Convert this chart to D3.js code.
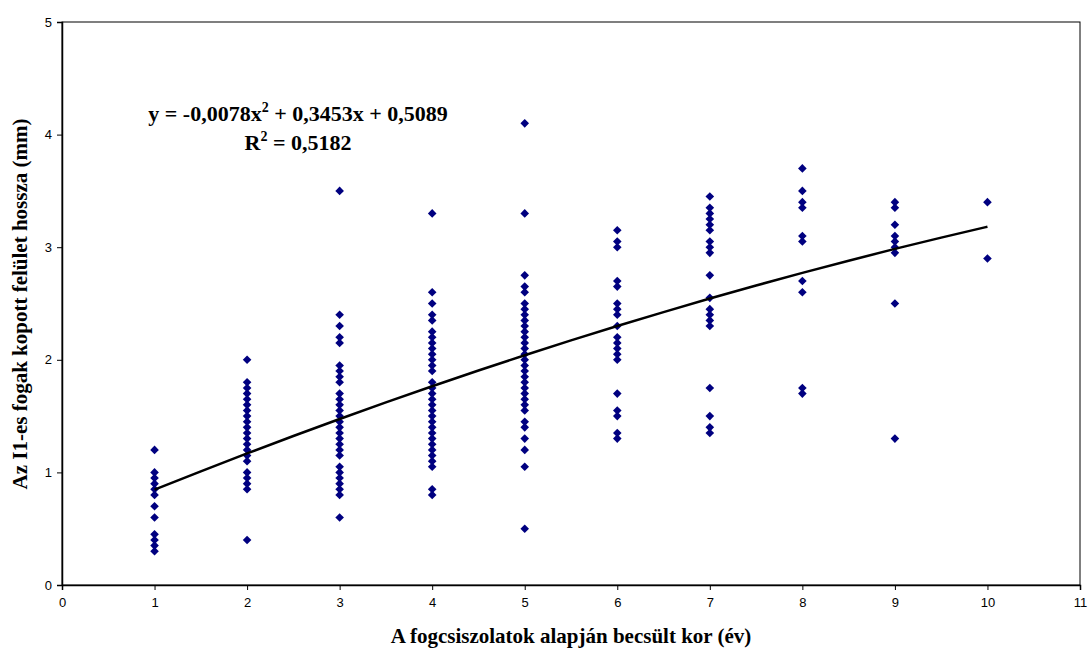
<!DOCTYPE html>
<html>
<head>
<meta charset="utf-8">
<script src="https://cdn.jsdelivr.net/npm/d3@7"></script>
<style>
  html, body { margin: 0; padding: 0; background: #fff; }
  svg { display: block; }
</style>
</head>
<body>
<svg id="chart" width="1092" height="648"></svg>
<script>
// Measured wear length (mm) of I1 teeth, grouped by estimated age (years)
const ages = [1, 2, 3, 4, 5, 6, 7, 8, 9, 10];
const age1 = [1.2, 1.0, 0.95, 0.9, 0.85, 0.8, 0.7, 0.6, 0.45, 0.4, 0.35, 0.3];
const age2 = [2.0, 1.8, 1.75, 1.7, 1.65, 1.6, 1.55, 1.5, 1.45, 1.4, 1.35, 1.3, 1.25, 1.2, 1.15, 1.1, 1.0, 0.95, 0.9, 0.85, 0.4];
const age3 = [3.5, 2.4, 2.3, 2.2, 2.15, 1.95, 1.9, 1.85, 1.8, 1.7, 1.65, 1.6, 1.55, 1.5, 1.45, 1.4, 1.35, 1.3, 1.25, 1.2, 1.15, 1.05, 1.0, 0.95, 0.9, 0.85, 0.8, 0.6];
const age4 = [3.3, 2.6, 2.5, 2.4, 2.35, 2.25, 2.2, 2.15, 2.1, 2.05, 2.0, 1.95, 1.9, 1.8, 1.75, 1.7, 1.65, 1.6, 1.55, 1.5, 1.45, 1.4, 1.35, 1.3, 1.25, 1.2, 1.15, 1.1, 1.05, 0.85, 0.8];
const age5 = [4.1, 3.3, 2.75, 2.65, 2.6, 2.5, 2.45, 2.4, 2.35, 2.3, 2.25, 2.2, 2.15, 2.1, 2.05, 2.0, 1.95, 1.9, 1.85, 1.8, 1.75, 1.7, 1.65, 1.6, 1.55, 1.45, 1.4, 1.3, 1.2, 1.05, 0.5];
const age6 = [3.15, 3.05, 3.0, 2.7, 2.65, 2.5, 2.45, 2.4, 2.3, 2.2, 2.15, 2.1, 2.05, 2.0, 1.7, 1.55, 1.5, 1.35, 1.3];
const age7 = [3.45, 3.35, 3.3, 3.25, 3.2, 3.15, 3.05, 3.0, 2.95, 2.75, 2.55, 2.45, 2.4, 2.35, 2.3, 1.75, 1.5, 1.4, 1.35];
const age8 = [3.7, 3.5, 3.4, 3.35, 3.1, 3.05, 2.7, 2.6, 1.75, 1.7];
const age9 = [3.4, 3.35, 3.2, 3.1, 3.05, 3.0, 2.95, 2.5, 1.3];
const age10 = [3.4, 2.9];
const valuesByAge = [age1, age2, age3, age4, age5, age6, age7, age8, age9, age10];

// Polynomial trendline coefficients (y = a*x^2 + b*x + c)
const trendA = -0.0078, trendB = 0.3453, trendC = 0.5089;
const trendX = [1, 1.5, 2, 2.5, 3, 3.5, 4, 4.5, 5, 5.5, 6, 6.5, 7, 7.5, 8, 8.5, 9, 9.5, 10];

const xTicks = [0, 1, 2, 3, 4, 5, 6, 7, 8, 9, 10, 11];
const yTicks = [0, 1, 2, 3, 4, 5];

const equationText = ["y = -0,0078x", "2", " + 0,3453x + 0,5089"];
const r2Text = ["R", "2", " = 0,5182"];
const xTitle = "A fogcsiszolatok alapján becsült kor (év)";
const yTitle = "Az I1-es fogak kopott felület hossza (mm)";

const points = [];
valuesByAge.forEach((vals, i) => vals.forEach(v => points.push({ x: ages[i], y: v })));

const svg = d3.select("#chart");
const plotLeft = 62, plotRight = 1080, plotTop = 22, plotBottom = 585;

const x = d3.scaleLinear().domain([0, 11]).range([plotLeft, plotRight]);
const y = d3.scaleLinear().domain([0, 5]).range([plotBottom, plotTop]);

// Frame around the plot area
svg.append("rect")
  .attr("x", plotLeft).attr("y", plotTop)
  .attr("width", plotRight - plotLeft).attr("height", plotBottom - plotTop)
  .attr("fill", "none").attr("stroke", "#000").attr("stroke-width", 1);

// Axes
const xAxis = svg.append("g")
  .attr("transform", `translate(0,${plotBottom})`)
  .call(d3.axisBottom(x).tickValues(xTicks).tickSize(5).tickPadding(8).tickFormat(d3.format("d")));
const yAxis = svg.append("g")
  .attr("transform", `translate(${plotLeft},0)`)
  .call(d3.axisLeft(y).tickValues(yTicks).tickSize(5).tickPadding(5).tickFormat(d3.format("d")));

[xAxis, yAxis].forEach(g => {
  g.select(".domain").attr("stroke", "#000").attr("stroke-width", 1.5);
  g.selectAll(".tick line").attr("stroke", "#000");
  g.selectAll(".tick text")
    .attr("font-family", "'Liberation Sans', Arial, sans-serif")
    .attr("font-size", 13).attr("fill", "#000");
});

// Diamond markers
const diamond = r => `M0,${-r}L${r},0L0,${r}L${-r},0Z`;
svg.append("g")
  .selectAll("path")
  .data(points)
  .join("path")
  .attr("transform", d => `translate(${x(d.x)},${y(d.y)})`)
  .attr("d", diamond(4.3))
  .attr("fill", "#000080");

// Trendline
const trend = trendX.map(t => ({ x: t, y: trendA * t * t + trendB * t + trendC }));
svg.append("path")
  .datum(trend)
  .attr("fill", "none")
  .attr("stroke", "#000")
  .attr("stroke-width", 2.5)
  .attr("d", d3.line().x(d => x(d.x)).y(d => y(d.y)).curve(d3.curveMonotoneX));

// Equation labels
const serif = "'Liberation Serif', 'Times New Roman', serif";
function supLabel(parts, cx, cy) {
  const t = svg.append("text")
    .attr("x", cx).attr("y", cy)
    .attr("text-anchor", "middle")
    .attr("font-family", serif)
    .attr("font-weight", "bold")
    .attr("font-size", 22)
    .attr("fill", "#000");
  t.append("tspan").text(parts[0]);
  t.append("tspan").attr("dy", -9).attr("font-size", 14).text(parts[1]);
  t.append("tspan").attr("dy", 9).text(parts[2]);
}
supLabel(equationText, 298, 121);
supLabel(r2Text, 298, 150);

// Axis titles
svg.append("text")
  .attr("x", 571).attr("y", 643)
  .attr("text-anchor", "middle")
  .attr("font-family", serif).attr("font-weight", "bold").attr("font-size", 21)
  .text(xTitle);

svg.append("text")
  .attr("transform", "translate(27,304) rotate(-90)")
  .attr("text-anchor", "middle")
  .attr("font-family", serif).attr("font-weight", "bold").attr("font-size", 21)
  .text(yTitle);
</script>
</body>
</html>
